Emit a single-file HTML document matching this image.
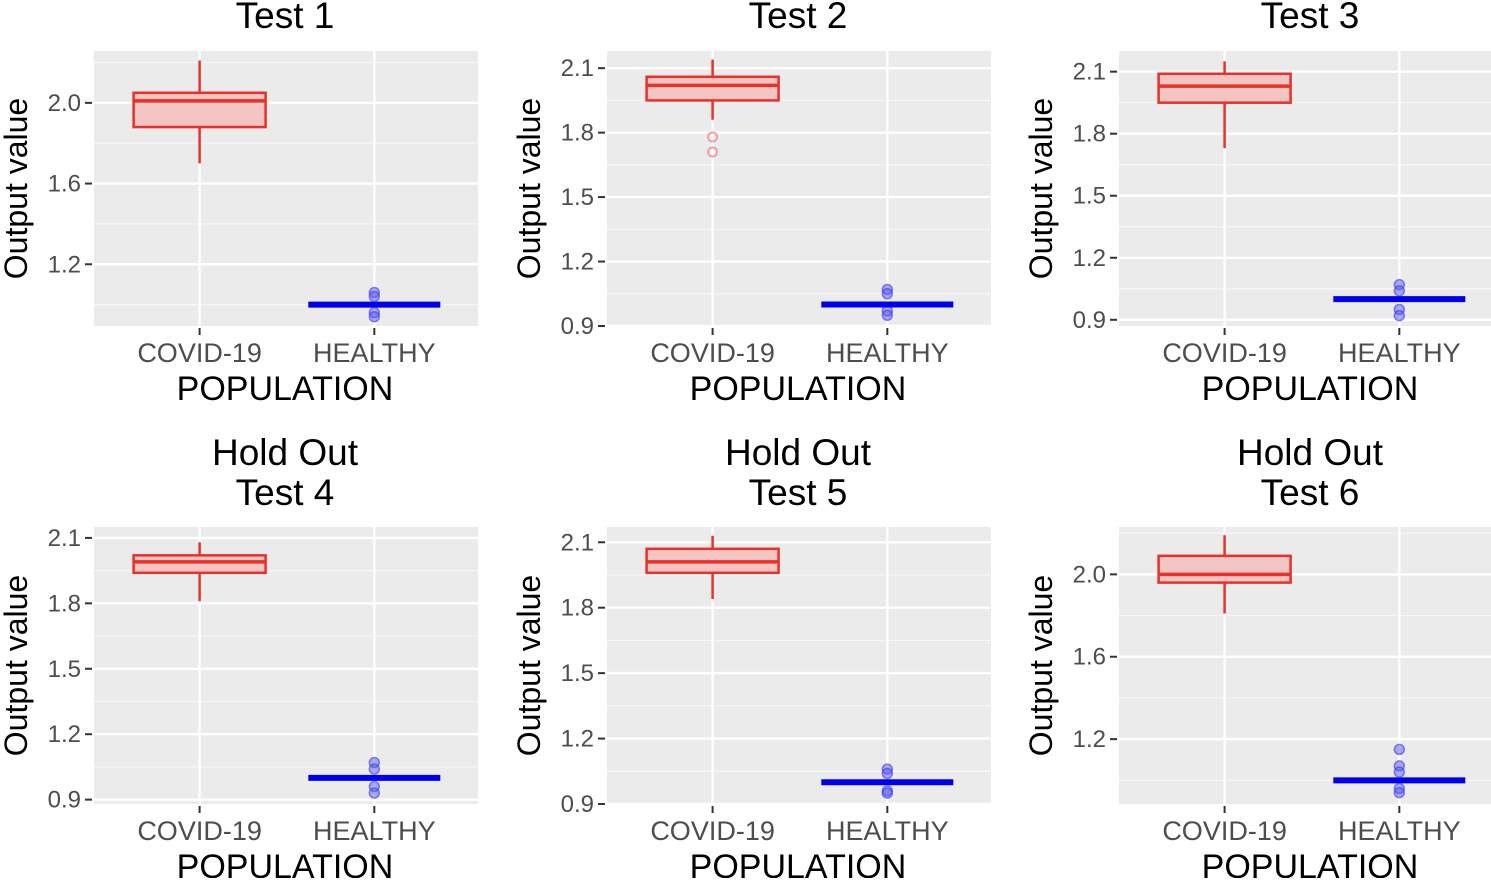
<!DOCTYPE html>
<html><head><meta charset="utf-8">
<style>
body{margin:0;background:#fff;width:1491px;height:878px;overflow:hidden;font-family:"Liberation Sans",sans-serif}
</style></head>
<body>
<svg id="chart" width="1491" height="878" xmlns="http://www.w3.org/2000/svg"></svg>
<script>
const panelTitles=[["Test 1"],["Test 2"],["Test 3"],["Hold Out","Test 4"],["Hold Out","Test 5"],["Hold Out","Test 6"]];
const categories=["COVID-19","HEALTHY"];
const yTicks=[[1.2,1.6,2.0],[0.9,1.2,1.5,1.8,2.1],[0.9,1.2,1.5,1.8,2.1],[0.9,1.2,1.5,1.8,2.1],[0.9,1.2,1.5,1.8,2.1],[1.2,1.6,2.0]];
const yTickLabels=[["1.2","1.6","2.0"],["0.9","1.2","1.5","1.8","2.1"],["0.9","1.2","1.5","1.8","2.1"],["0.9","1.2","1.5","1.8","2.1"],["0.9","1.2","1.5","1.8","2.1"],["1.2","1.6","2.0"]];
const yDomains=[[0.894,2.257],[0.9,2.18],[0.87,2.2],[0.88,2.15],[0.9,2.17],[0.885,2.23]];
// covid boxes: [lowWhisker, Q1, median, Q3, highWhisker]
const covidBox=[[1.70,1.88,2.01,2.05,2.21],[1.86,1.95,2.02,2.06,2.14],[1.73,1.95,2.03,2.09,2.15],[1.81,1.94,1.99,2.02,2.08],[1.84,1.96,2.01,2.07,2.13],[1.81,1.96,2.00,2.09,2.19]];
const covidOutliers=[[],[1.78,1.71],[],[],[],[]];
const healthyMedian=[1.0,1.0,1.0,1.0,1.0,1.0];
const healthyOutliers=[[1.06,1.04,0.96,0.94],[1.07,1.05,0.97,0.95],[1.07,1.04,0.95,0.92],[1.07,1.04,0.96,0.93],[1.06,1.04,0.96,0.95],[1.15,1.07,1.04,0.96,0.94]];

const NS="http://www.w3.org/2000/svg";
const svg=document.getElementById('chart');
function mk(tag,attrs,parent,text){const e=document.createElementNS(NS,tag);for(const k in attrs)e.setAttribute(k,attrs[k]);if(text!==undefined)e.textContent=text;(parent||svg).appendChild(e);return e;}
const colX=[94,607,1119], rowY=[[51,326],[527,804]], PW=384;
for(let p=0;p<6;p++){
  const L=colX[p%3], T=rowY[Math.floor(p/3)][0], B=rowY[Math.floor(p/3)][1], R=L+PW;
  const [d0,d1]=yDomains[p];
  const y=v=>B-(v-d0)/(d1-d0)*(B-T);
  const xc=[L+PW*0.275, L+PW*0.73];
  const g=mk('g',{});
  
  
  mk('rect',{x:L,y:T,width:PW,height:B-T,fill:'#ebebeb'},g);
  const t=yTicks[p];
  const step=t[1]-t[0];
  for(let v=t[0]-step/2;v<=d1;v+=step){ if(v>=d0) mk('line',{x1:L,x2:R,y1:y(v),y2:y(v),stroke:'#f7f7f7','stroke-width':1.2},g);}
  t.forEach((v,i)=>{
    mk('line',{x1:L,x2:R,y1:y(v),y2:y(v),stroke:'#fff','stroke-width':2.4},g);
    mk('line',{x1:L-9,x2:L-2,y1:y(v),y2:y(v),stroke:'#333','stroke-width':2},g);
    const tl=mk('text',{x:L-13,y:y(v)+8,'text-anchor':'end','font-size':24,fill:'#4d4d4d'},g,yTickLabels[p][i]);
    
    
  });
  xc.forEach((x,i)=>{
    mk('line',{x1:x,x2:x,y1:T,y2:B,stroke:'#fff','stroke-width':2.4},g);
    mk('line',{x1:x,x2:x,y1:B+2,y2:B+9,stroke:'#333','stroke-width':2},g);
    const cl=mk('text',{x:x,y:B+36,'text-anchor':'middle','font-size':27,fill:'#4d4d4d'},g,categories[i]);
    
    
  });
  const [lo,q1,md,q3,hi]=covidBox[p];
  const hw=66;
  mk('line',{x1:xc[0],x2:xc[0],y1:y(hi),y2:y(q3),stroke:'#e8312a','stroke-width':2.5},g);
  mk('line',{x1:xc[0],x2:xc[0],y1:y(q1),y2:y(lo),stroke:'#e8312a','stroke-width':2.5},g);
  const bx=mk('rect',{x:xc[0]-hw,y:y(q3),width:2*hw,height:y(q1)-y(q3),fill:'#f2c4c2',stroke:'#e8312a','stroke-width':2.5},g);
  
  
  mk('line',{x1:xc[0]-hw,x2:xc[0]+hw,y1:y(md),y2:y(md),stroke:'#e8312a','stroke-width':3.5},g);
  covidOutliers[p].forEach(v=>mk('circle',{cx:xc[0],cy:y(v),r:4.5,fill:'none',stroke:'#f0a0a0','stroke-width':2},g));
  healthyOutliers[p].forEach(v=>mk('circle',{cx:xc[1],cy:y(v),r:5,fill:'rgba(90,90,240,0.5)',stroke:'rgba(60,60,230,0.6)','stroke-width':1.5},g));
  const hl=mk('line',{x1:xc[1]-hw,x2:xc[1]+hw,y1:y(healthyMedian[p]),y2:y(healthyMedian[p]),stroke:'#0000ee','stroke-width':6},g);
  
  
  const tl=panelTitles[p];
  const tcx=L+PW/2-1;
  tl.forEach((s,i)=>{
    const ty= tl.length===1 ? T-23 : T-62+i*40;
    const te=mk('text',{x:tcx,y:ty,'text-anchor':'middle','font-size':37,fill:'#000'},g,s);
    
    
  });
  const xt=mk('text',{x:tcx,y:B+74,'text-anchor':'middle','font-size':34,fill:'#000'},g,'POPULATION');
  
  
  const ycy=(T+B)/2;
  const yt=mk('text',{x:0,y:0,'text-anchor':'middle','font-size':32,fill:'#000',transform:`translate(${L-67},${ycy}) rotate(-90)`},g,'Output value');
  
  
}
</script>
</body></html>
